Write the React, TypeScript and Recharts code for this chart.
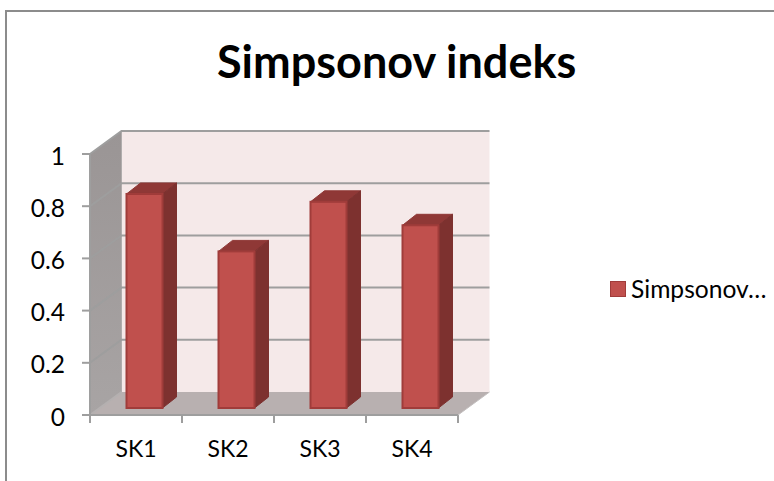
import React from "react";
import { BarChart, Bar, XAxis, YAxis, ReferenceArea, Legend } from "recharts";

const categories = ["SK1", "SK2", "SK3", "SK4"];
const simpsonValues = [0.82, 0.6, 0.79, 0.7];
const yTicks = [0, 0.2, 0.4, 0.6, 0.8, 1];
const titleText = "Simpsonov indeks";
const seriesName = "Simpsonov…";

const data = categories.map((c, i) => ({ name: c, value: simpsonValues[i] }));

const FONT = "Lato, Carlito, sans-serif";
const DEPTH_X = 31.5;
const DEPTH_Y = 23;
const BAR_SHIFT_X = 8.5;
const BAR_SHIFT_Y = 7;
const BAR_DX = 14;
const BAR_DY = 11;
const GRID = "#9e9e9e";

const Walls = (p: any) => {
  const { x, y, width, height } = p;
  const b = y + height;
  const r = x + width;
  return (
    <g>
      <defs>
        <linearGradient id="sideWall" x1="0" y1="0" x2="0" y2="1">
          <stop offset="0" stopColor="#9a9595" />
          <stop offset="1" stopColor="#a8a4a4" />
        </linearGradient>
      </defs>
      <polygon points={`${x + DEPTH_X},${y - DEPTH_Y} ${r + DEPTH_X},${y - DEPTH_Y} ${r + DEPTH_X},${b - DEPTH_Y} ${x + DEPTH_X},${b - DEPTH_Y}`} fill="#f5e9e9" />
      <polygon points={`${x},${y} ${x + DEPTH_X},${y - DEPTH_Y} ${x + DEPTH_X},${b - DEPTH_Y} ${x},${b}`} fill="url(#sideWall)" />
      <polygon points={`${x},${b} ${x + DEPTH_X},${b - DEPTH_Y} ${r + DEPTH_X},${b - DEPTH_Y} ${r},${b}`} fill="#b8b0b0" />
      <line x1={x + DEPTH_X} y1={y - DEPTH_Y} x2={x + DEPTH_X} y2={b - DEPTH_Y} stroke="#b0adad" strokeWidth={1} />
      {yTicks.map((t) => {
        const ty = y + height * (1 - t);
        return t === 0 ? (
          <line key={t} x1={x} y1={ty} x2={x + DEPTH_X} y2={ty - DEPTH_Y} stroke="#b4b0b0" strokeWidth={2} />
        ) : (
          <polyline
            key={t}
            points={`${x},${ty} ${x + DEPTH_X},${ty - DEPTH_Y} ${r + DEPTH_X},${ty - DEPTH_Y}`}
            fill="none"
            stroke={GRID}
            strokeWidth={2}
          />
        );
      })}
      {[0, 1, 2, 3, 4].map((i) => {
        const tx = x + (width * i) / categories.length;
        return <line key={i} x1={tx} y1={b} x2={tx} y2={b + 8} stroke={GRID} strokeWidth={2} />;
      })}
      <line x1={r} y1={b} x2={r + DEPTH_X} y2={b - DEPTH_Y} stroke="#c4c0c0" strokeWidth={1} />
    </g>
  );
};

const Bar3D = (p: any) => {
  const { x, y, width, height } = p;
  const l = x + BAR_SHIFT_X;
  const t = y - BAR_SHIFT_Y;
  const r = l + width;
  const b = t + height;
  return (
    <g>
      <polygon points={`${l},${t} ${l + BAR_DX},${t - BAR_DY} ${r + BAR_DX},${t - BAR_DY} ${r},${t}`} fill="#8f3836" stroke="#8f3836" strokeWidth={1} />
      <polygon points={`${r},${t} ${r + BAR_DX},${t - BAR_DY} ${r + BAR_DX},${b - BAR_DY} ${r},${b}`} fill="#7d312f" stroke="#7d312f" strokeWidth={1} />
      <rect x={l} y={t} width={width} height={height} fill="#c0504d" stroke="#a03c3a" strokeWidth={2} />
    </g>
  );
};

const LegendBox = () => (
  <div style={{ display: "flex", alignItems: "center", fontFamily: FONT, fontSize: 24.6, lineHeight: "30px", color: "#000", whiteSpace: "nowrap" }}>
    <span style={{ width: 14, height: 14, background: "#c0504d", border: "1.5px solid #a03c3a", marginRight: 5, display: "inline-block" }} />
    {seriesName}
  </div>
);

export default function App() {
  return (
    <div style={{ position: "absolute", left: 0, top: 0, width: 774, height: 481, overflow: "hidden", background: "#fff" }}>
      <div style={{ position: "absolute", left: 5, top: 10, width: 790, height: 500, border: "2px solid #8c8c8c", boxSizing: "border-box" }} />
      <div style={{ position: "absolute", left: 217, top: 34, fontFamily: FONT, fontWeight: 700, fontSize: 45, lineHeight: "54px", color: "#000", whiteSpace: "nowrap" }}>
        {titleText}
      </div>
      <BarChart
        width={774}
        height={481}
        data={data}
        margin={{ top: 154, right: 156, bottom: 0, left: 30 }}
        style={{ position: "absolute", left: 0, top: 0 }}
      >
        <ReferenceArea y1={0} y2={1} shape={Walls} ifOverflow="visible" />
        <XAxis
          dataKey="name"
          height={66}
          tickSize={8}
          tickMargin={18}
          interval={0}
          axisLine={{ stroke: GRID, strokeWidth: 2 }}
          tickLine={false}
          tick={{ fontFamily: FONT, fontSize: 23, fill: "#000" }}
        />
        <YAxis
          width={60}
          domain={[0, 1]}
          ticks={yTicks}
          tickSize={8}
          tickMargin={17}
          axisLine={{ stroke: GRID, strokeWidth: 2 }}
          tickLine={{ stroke: GRID, strokeWidth: 2 }}
          tick={{ fontFamily: FONT, fontSize: 24.5, fill: "#000", dy: 2 }}
        />
        <Bar dataKey="value" name={seriesName} barSize={36} fill="#c0504d" shape={Bar3D} isAnimationActive={false} />
        <Legend content={LegendBox} layout="vertical" align="right" verticalAlign="top" wrapperStyle={{ position: "absolute", left: 610, top: 274, width: 160 }} />
      </BarChart>
    </div>
  );
}
